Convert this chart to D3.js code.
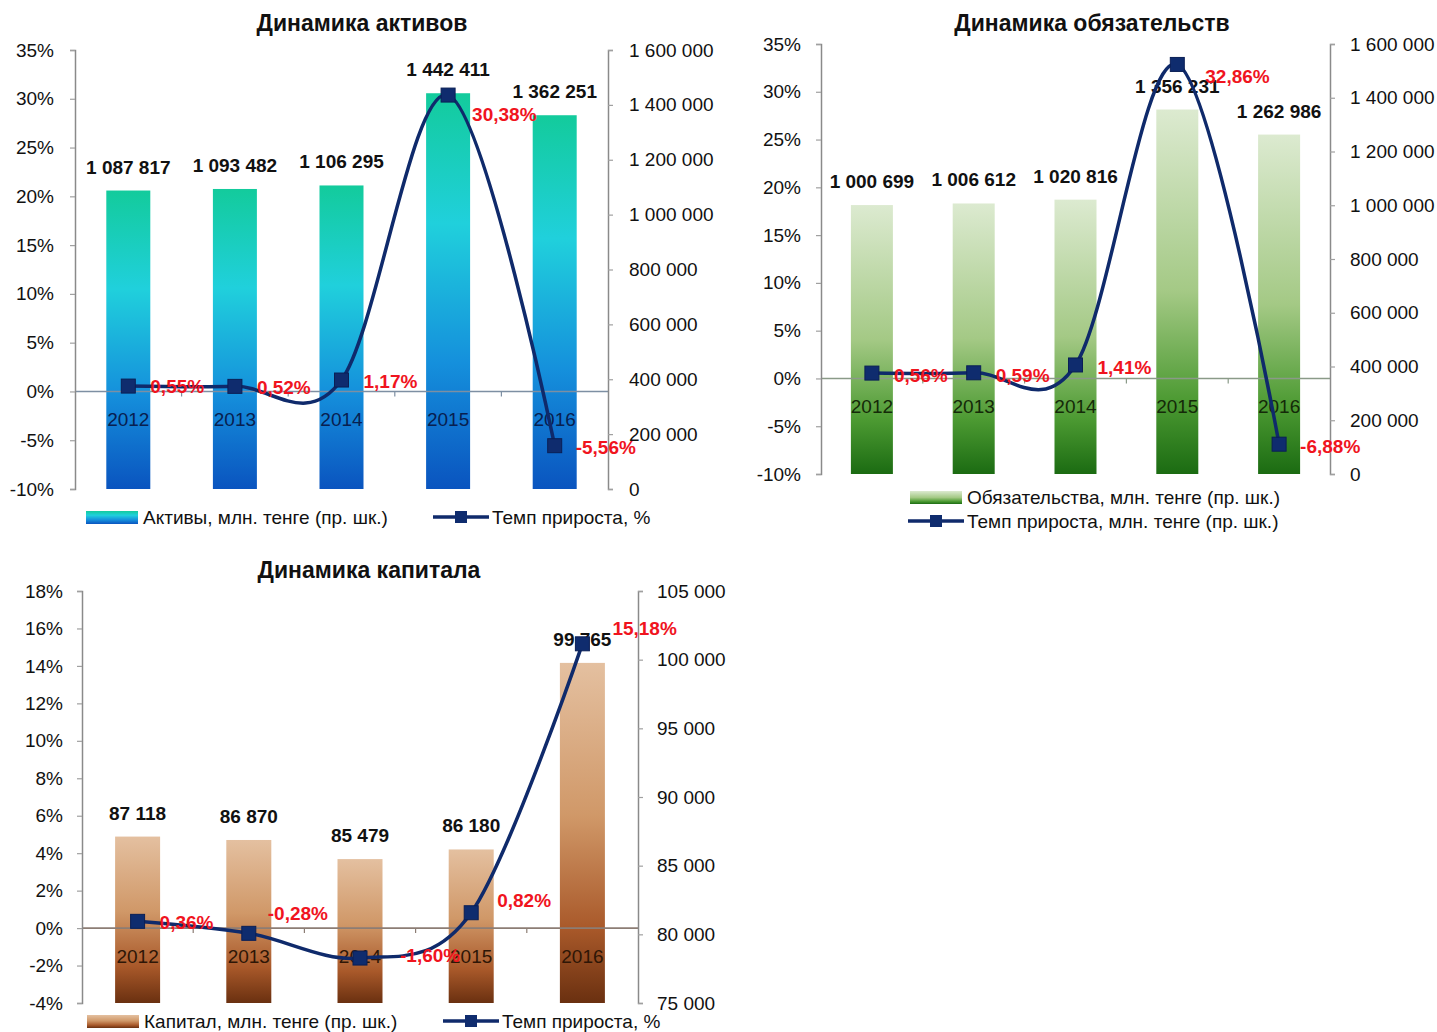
<!DOCTYPE html>
<html>
<head>
<meta charset="utf-8">
<script src="https://cdn.jsdelivr.net/npm/d3@7"></script>
<style>
  body { margin: 0; background: #fff; }
  text { font-family: 'Liberation Sans', Arial, sans-serif; }
</style>
</head>
<body>
<div id="chart-area"></div>
<script>
// DATA
const years = ['2012', '2013', '2014', '2015', '2016']

const assets = [1087817, 1093482, 1106295, 1442411, 1362251]
const assetsGrowth = [0.55, 0.52, 1.17, 30.38, -5.56]

const liabilities = [1000699, 1006612, 1020816, 1356231, 1262986]
const liabilitiesGrowth = [0.56, 0.59, 1.41, 32.86, -6.88]

const capital = [87118, 86870, 85479, 86180, 99765]
const capitalGrowth = [0.36, -0.28, -1.60, 0.82, 15.18]

const pctTicksA = [-10, -5, 0, 5, 10, 15, 20, 25, 30, 35]
const valTicksA = [0, 200000, 400000, 600000, 800000, 1000000, 1200000, 1400000, 1600000]
const pctTicksC = [-4, -2, 0, 2, 4, 6, 8, 10, 12, 14, 16, 18]
const valTicksC = [75000, 80000, 85000, 90000, 95000, 100000, 105000]

const locale = d3.formatLocale({ decimal: ',', thousands: ' ', grouping: [3], currency: ['', ''], minus: '-' })
const fmtVal = locale.format(',')
const fmtPct = d => locale.format('.2f')(d) + '%'

const WIDTH = 1437
const HEIGHT = 1032
const FONT = 19

const svg = d3.select('#chart-area').append('svg')
  .attr('width', WIDTH)
  .attr('height', HEIGHT)

svg.append('rect').attr('width', WIDTH).attr('height', HEIGHT).attr('fill', '#fff')

const defs = svg.append('defs')

function gradient(id, stops) {
  const g = defs.append('linearGradient')
    .attr('id', id)
    .attr('x1', 0).attr('y1', 0).attr('x2', 0).attr('y2', 1)
  stops.forEach(s => g.append('stop').attr('offset', s[0]).attr('stop-color', s[1]))
}
gradient('gradBlue', [[0, '#13cb9c'], [0.33, '#20d0dc'], [0.68, '#1590dc'], [1, '#0a54bf']])
gradient('gradGreen', [[0, '#dcead0'], [0.5, '#a4c985'], [0.8, '#4c9a32'], [1, '#1b6b12']])
gradient('gradBrown', [[0, '#e4c0a0'], [0.45, '#d09868'], [0.78, '#a9592a'], [1, '#6a3010']])

let clipId = 0

function drawChart(cfg) {
  const g = svg.append('g')

  const x = d3.scaleBand()
    .domain(years)
    .range([cfg.left, cfg.right])

  const yPct = d3.scaleLinear()
    .domain(d3.extent(cfg.pctTicks))
    .range([cfg.bottom, cfg.top])

  const yVal = d3.scaleLinear()
    .domain(d3.extent(cfg.valTicks))
    .range([cfg.bottom, cfg.top])

  const bw = cfg.barWidth
  const cx = d => x(d) + x.bandwidth() / 2

  // TITLE
  g.append('text')
    .attr('x', cfg.titleX)
    .attr('y', cfg.titleY)
    .attr('text-anchor', 'middle')
    .attr('font-size', '23px')
    .attr('font-weight', 'bold')
    .attr('fill', '#111')
    .text(cfg.title)

  // BARS
  years.forEach((yr, i) => {
    const bx = cx(yr) - bw / 2
    const by = yVal(cfg.values[i])
    const bh = cfg.bottom - by
    g.append('rect')
      .attr('x', bx).attr('y', by)
      .attr('width', bw).attr('height', bh)
      .attr('fill', `url(#${cfg.grad})`)

    const id = 'clip' + (clipId++)
    defs.append('clipPath').attr('id', id)
      .append('rect').attr('x', bx).attr('y', by).attr('width', bw).attr('height', bh)

    g.append('text')
      .attr('clip-path', `url(#${id})`)
      .attr('x', cx(yr))
      .attr('y', yPct(0) + 35)
      .attr('text-anchor', 'middle')
      .attr('font-size', FONT + 'px')
      .attr('fill', cfg.yearColor)
      .text(yr)

    g.append('text')
      .attr('x', cx(yr))
      .attr('y', by - 17)
      .attr('text-anchor', 'middle')
      .attr('font-size', FONT + 'px')
      .attr('font-weight', 'bold')
      .attr('fill', '#111')
      .text(fmtVal(cfg.values[i]))
  })

  // ZERO LINE + CATEGORY TICKS
  g.append('line')
    .attr('x1', cfg.left).attr('x2', cfg.right)
    .attr('y1', yPct(0)).attr('y2', yPct(0))
    .attr('stroke', cfg.zeroColor).attr('stroke-width', 1.6)
  years.slice(1).forEach(yr => {
    g.append('line')
      .attr('x1', x(yr)).attr('x2', x(yr))
      .attr('y1', yPct(0)).attr('y2', yPct(0) + 5)
      .attr('stroke', cfg.zeroColor).attr('stroke-width', 1.2)
  })

  // AXES
  const yAxisL = d3.axisLeft(yPct)
    .tickValues(cfg.pctTicks)
    .tickSize(5)
    .tickPadding(cfg.tickPad)
    .tickFormat(d => d + '%')
  const axL = g.append('g')
    .attr('transform', `translate(${cfg.left}, 0)`)
    .call(yAxisL)

  const yAxisR = d3.axisRight(yVal)
    .tickValues(cfg.valTicks)
    .tickSize(5)
    .tickPadding(cfg.tickPad)
    .tickFormat(fmtVal)
  const axR = g.append('g')
    .attr('transform', `translate(${cfg.right}, 0)`)
    .call(yAxisR)

  ;[axL, axR].forEach(ax => {
    ax.select('.domain').attr('stroke', '#8a8a8a').attr('stroke-width', 1.5)
    ax.selectAll('.tick line').attr('stroke', '#a0a0a0').attr('stroke-width', 1.2)
    ax.selectAll('.tick text')
      .attr('font-size', FONT + 'px')
      .attr('font-family', "'Liberation Sans', Arial, sans-serif")
      .attr('fill', '#111')
  })

  // GROWTH LINE
  const pts = years.map((yr, i) => [cx(yr), yPct(cfg.growth[i])])
  g.append('path')
    .attr('d', d3.line().curve(d3.curveCardinal.tension(0))(pts))
    .attr('fill', 'none')
    .attr('stroke', '#0f2a6b')
    .attr('stroke-width', 3.5)

  pts.forEach(p => {
    g.append('rect')
      .attr('x', p[0] - 7).attr('y', p[1] - 7)
      .attr('width', 14).attr('height', 14)
      .attr('fill', '#0f2c6e')
      .attr('stroke', '#0a1f55').attr('stroke-width', 1)
  })

  // GROWTH LABELS
  pts.forEach((p, i) => {
    g.append('text')
      .attr('x', p[0] + cfg.nudge[i][0])
      .attr('y', p[1] + cfg.nudge[i][1] + 7)
      .attr('font-size', FONT + 'px')
      .attr('font-weight', 'bold')
      .attr('fill', '#f0141e')
      .text(fmtPct(cfg.growth[i]))
  })

  // LEGEND
  cfg.legend.forEach(item => {
    if (item.type === 'bar') {
      g.append('rect')
        .attr('x', item.x).attr('y', item.y - 6)
        .attr('width', 52).attr('height', 13)
        .attr('fill', `url(#${cfg.grad})`)
    } else {
      g.append('line')
        .attr('x1', item.x).attr('x2', item.x + 56)
        .attr('y1', item.y).attr('y2', item.y)
        .attr('stroke', '#0f2a6b').attr('stroke-width', 3.5)
      g.append('rect')
        .attr('x', item.x + 22).attr('y', item.y - 6)
        .attr('width', 12).attr('height', 12)
        .attr('fill', '#0f2c6e')
    }
    g.append('text')
      .attr('x', item.x + (item.type === 'bar' ? 57 : 59))
      .attr('y', item.y + 7)
      .attr('font-size', FONT + 'px')
      .attr('fill', '#111')
      .text(item.label)
  })
}

drawChart({
  title: 'Динамика активов', titleX: 362, titleY: 31,
  left: 75, right: 608, top: 50, bottom: 489,
  barWidth: 44, tickPad: 16,
  values: assets, growth: assetsGrowth,
  pctTicks: pctTicksA, valTicks: valTicksA,
  grad: 'gradBlue', yearColor: '#082050', zeroColor: '#7d8fa3',
  nudge: [[22, 0], [22, 1], [22, 1], [24, 19], [21, 1]],
  legend: [
    { type: 'bar', x: 86, y: 517, label: 'Активы, млн. тенге (пр. шк.)' },
    { type: 'line', x: 433, y: 517, label: 'Темп прироста, %' }
  ]
})

drawChart({
  title: 'Динамика обязательств', titleX: 1092, titleY: 31,
  left: 821, right: 1330, top: 44, bottom: 474,
  barWidth: 42, tickPad: 15,
  values: liabilities, growth: liabilitiesGrowth,
  pctTicks: pctTicksA, valTicks: valTicksA,
  grad: 'gradGreen', yearColor: '#142a08', zeroColor: '#8a9a88',
  nudge: [[22, 2], [22, 2], [22, 2], [28, 12], [21, 2]],
  legend: [
    { type: 'bar', x: 910, y: 497, label: 'Обязательства, млн. тенге (пр. шк.)' },
    { type: 'line', x: 908, y: 521, label: 'Темп прироста, млн. тенге (пр. шк.)' }
  ]
})

drawChart({
  title: 'Динамика капитала', titleX: 369, titleY: 578,
  left: 82, right: 638, top: 591, bottom: 1003,
  barWidth: 45, tickPad: 14,
  values: capital, growth: capitalGrowth,
  pctTicks: pctTicksC, valTicks: valTicksC,
  grad: 'gradBrown', yearColor: '#2e1606', zeroColor: '#8c7d74',
  nudge: [[22, 1], [19, -20], [40, -3], [26, -13], [30, -16]],
  legend: [
    { type: 'bar', x: 87, y: 1021, label: 'Капитал, млн. тенге (пр. шк.)' },
    { type: 'line', x: 443, y: 1021, label: 'Темп прироста, %' }
  ]
})
</script>
</body>
</html>
